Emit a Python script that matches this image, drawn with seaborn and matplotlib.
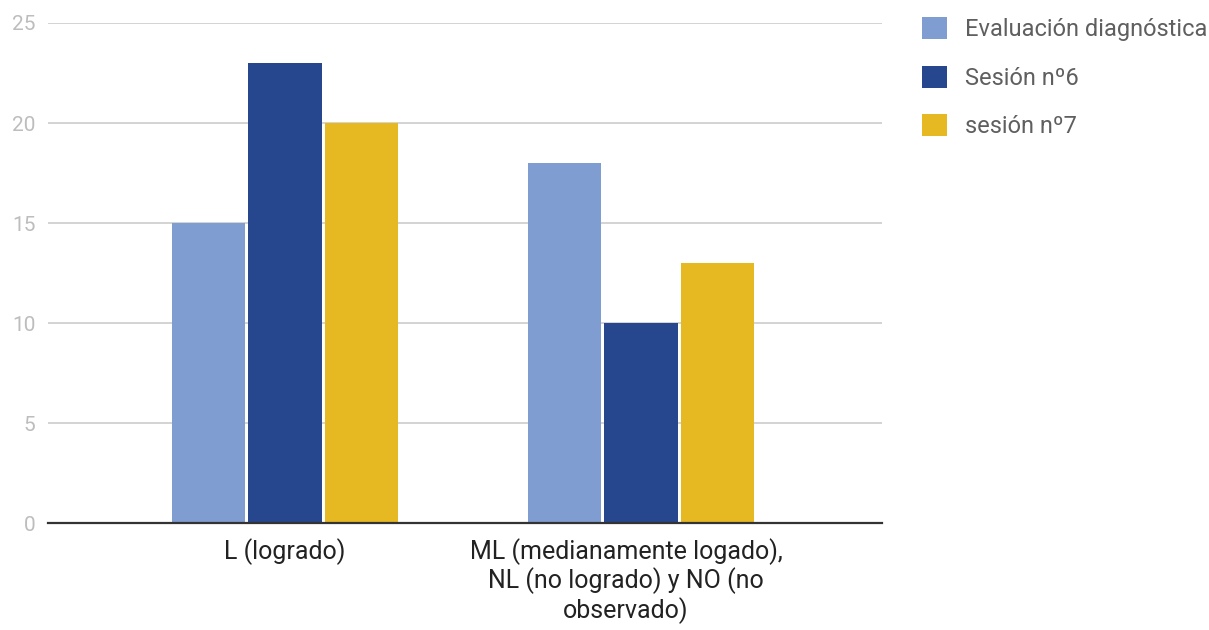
import matplotlib
matplotlib.use("Agg")
import matplotlib.pyplot as plt
import matplotlib.transforms as mtransforms
import seaborn as sns
import pandas as pd
from matplotlib.patches import Patch

categories = ["L (logrado)",
              "ML (medianamente logado),\nNL (no logrado) y NO (no\nobservado)"]
series = ["Evaluación diagnóstica", "Sesión nº6", "sesión nº7"]
values_diag = [15, 18]
values_s6 = [23, 10]
values_s7 = [20, 13]
colors = ["#809dd1", "#26468d", "#e6b821"]
yticks = [0, 5, 10, 15, 20, 25]

rows = []
for name, vals in zip(series, [values_diag, values_s6, values_s7]):
    for cat, v in zip(categories, vals):
        rows.append({"cat": cat, "serie": name, "valor": v})
df = pd.DataFrame(rows)

sns.set_theme(style="white")
plt.rcParams["font.family"] = ["Roboto", "DejaVu Sans"]

fig = plt.figure(figsize=(12.09, 6.30), dpi=100)
ax = fig.add_axes([0.0397, 0.1698, 0.6898, 0.7937])

sns.barplot(data=df, x="cat", y="valor", hue="serie", order=categories,
            hue_order=series, palette=colors, width=0.645, gap=0.04,
            saturation=1, ax=ax, legend=False, linewidth=0)

ax.set_xlim(-0.666, 1.677)
ax.set_ylim(0, 25)
ax.set_yticks(yticks)
ax.set_yticklabels([str(t) for t in yticks], color="#bdbdbd", fontsize=15)
ax.yaxis.grid(True, color="#cccccc", linewidth=1.2)
ax.set_axisbelow(True)
for s in ["top", "right", "left"]:
    ax.spines[s].set_visible(False)
ax.spines["bottom"].set_color("#333333")
ax.spines["bottom"].set_linewidth(1.6)
ax.tick_params(axis="y", length=0, pad=9)
ax.tick_params(axis="x", length=0, pad=11)
ax.set_xticks(range(len(categories)))
ax.set_xticklabels(categories, fontsize=18, color="#222222", linespacing=1.12)
ax.set_xlabel("")
ax.set_ylabel("")

# the long wrapped label sits slightly left of its group centre
long_label = ax.get_xticklabels()[1]
long_label.set_transform(long_label.get_transform() +
                         mtransforms.ScaledTranslation(-0.15, 0, fig.dpi_scale_trans))

handles = [Patch(facecolor=c, edgecolor="none") for c in colors]
leg = fig.legend(handles, series, loc="upper left", bbox_to_anchor=(0.7626, 0.973),
                 frameon=False, fontsize=17, labelcolor="#5f5f5f",
                 borderpad=0, borderaxespad=0,
                 handlelength=1.06, handleheight=1.06, handletextpad=0.76,
                 labelspacing=1.04)

fig.savefig("out.png", dpi=100)
